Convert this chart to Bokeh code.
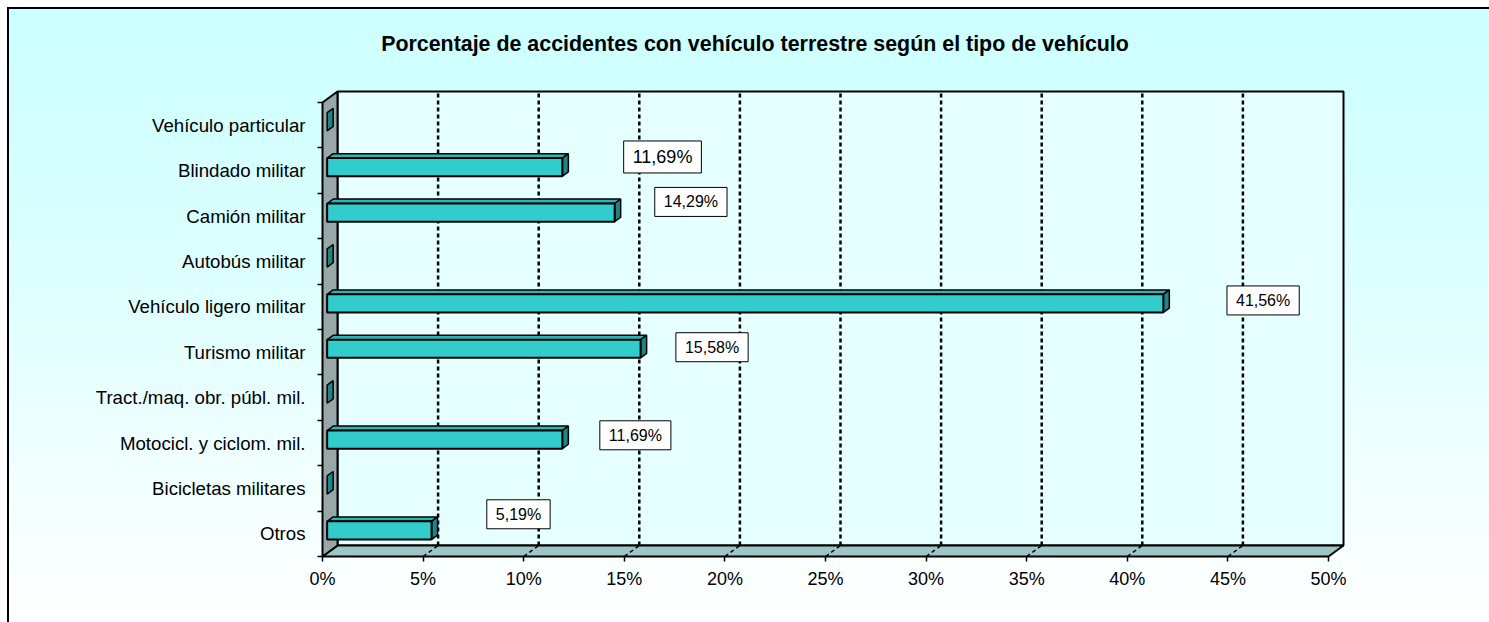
from bokeh.plotting import figure
from bokeh.models import FixedTicker, Label, Range1d
from bokeh.embed import file_html
from bokeh.resources import INLINE

# ---------------- data ----------------
categories = [
    "Vehículo particular",
    "Blindado militar",
    "Camión militar",
    "Autobús militar",
    "Vehículo ligero militar",
    "Turismo militar",
    "Tract./maq. obr. públ. mil.",
    "Motocicl. y ciclom. mil.",
    "Bicicletas militares",
    "Otros",
]
percentages = [0.0, 11.69, 14.29, 0.0, 41.56, 15.58, 0.0, 11.69, 0.0, 5.19]
x_ticks = [0, 5, 10, 15, 20, 25, 30, 35, 40, 45, 50]
x_tick_labels = ["0%", "5%", "10%", "15%", "20%", "25%", "30%", "35%", "40%", "45%", "50%"]
title_text = "Porcentaje de accidentes con vehículo terrestre según el tipo de vehículo"

# ---------------- layout / styling (not data) ----------------
W, H = 1489, 622
PX_X = 20.12   # pixels per percent
PX_Y = 45.4    # pixels per category band
FRAME_L, FRAME_R, FRAME_T, FRAME_B = 320, 1348, 20, 558   # canvas pixels
ORIGIN_X, ORIGIN_Y = 322, 556                             # canvas pixels of (0, 0)
XMAX = 50
N = len(categories)
DX = 15 / PX_X          # 3D depth offset in data units
DY = 11 / PX_Y
Z1, Z2 = 0.31, 0.71     # bar depth span (fraction of wall depth)
BAR_H = 0.2             # half height of bar in category units

# label offsets (dx in %, dy in category units) for each category, None = no label
label_offsets = [None, (5.21, 0.30), (4.02, 0.31), None, (5.19, 0.14),
                 (3.78, 0.11), None, (3.86, 0.17), None, (4.55, 0.43)]
label_sizes = [16, 18, 16, 16, 16, 16, 16, 16, 16, 16]

FONT = "Liberation Sans"

x_start = (FRAME_L - ORIGIN_X) / PX_X
x_end = x_start + (FRAME_R - FRAME_L) / PX_X
y_start = (ORIGIN_Y - FRAME_B) / PX_Y
y_end = y_start + (FRAME_B - FRAME_T) / PX_Y

bg = ("linear-gradient(#000000, #000000) 7px 7px / 2px calc(100% - 7px) no-repeat, "
      "linear-gradient(#000000, #000000) 7px 7px / calc(100% - 7px) 2px no-repeat, "
      "linear-gradient(to bottom, #ccffff 0%, #dcffff 40%, #ffffff 100%) 9px 9px / "
      "calc(100% - 9px) calc(100% - 9px) no-repeat, #ffffff")

p = figure(
    width=W, height=H,
    output_backend="svg", toolbar_location=None,
    x_range=Range1d(x_start, x_end), y_range=Range1d(y_start, y_end),
    min_border_left=FRAME_L, min_border_right=W - FRAME_R,
    min_border_top=FRAME_T, min_border_bottom=H - FRAME_B,
    styles={"background": bg},
)
p.border_fill_color = None
p.background_fill_color = None
p.outline_line_color = None
p.xgrid.grid_line_color = None
p.ygrid.grid_line_color = None

# ---------------- walls ----------------
# back wall
p.patch([DX, XMAX + DX, XMAX + DX, DX], [DY, DY, N + DY, N + DY],
        fill_color="#E6FFFF", line_color="black", line_width=2)
# floor
p.patch([0, XMAX, XMAX + DX, DX], [0, 0, DY, DY],
        fill_color="#9EC6C6", line_color="black", line_width=2)
# left wall
p.patch([0, DX, DX, 0], [0, DY, N + DY, N],
        fill_color="#98A8A8", line_color="black", line_width=2)

# gridlines (back wall + floor)
gx = [t for t in x_ticks if 0 < t < XMAX]
p.segment(x0=[g + DX for g in gx], y0=[DY] * len(gx), x1=[g + DX for g in gx], y1=[N + DY] * len(gx),
          line_color="black", line_width=2.5, line_dash="4 3")
p.segment(x0=gx, y0=[0] * len(gx), x1=[g + DX for g in gx], y1=[DY] * len(gx),
          line_color="black", line_width=1.5, line_dash="4 3")

# ---------------- bars ----------------
front_xs, front_ys, top_xs, top_ys, side_xs, side_ys = [], [], [], [], [], []
for i, v in enumerate(percentages):
    c = (N - 0.5) - i
    ax1, ay1 = Z1 * DX, Z1 * DY
    ax2, ay2 = Z2 * DX, Z2 * DY
    side_xs.append([v + ax1, v + ax2, v + ax2, v + ax1])
    side_ys.append([c - BAR_H + ay1, c - BAR_H + ay2, c + BAR_H + ay2, c + BAR_H + ay1])
    if v > 0:
        front_xs.append([ax1, v + ax1, v + ax1, ax1])
        front_ys.append([c - BAR_H + ay1, c - BAR_H + ay1, c + BAR_H + ay1, c + BAR_H + ay1])
        top_xs.append([ax1, v + ax1, v + ax2, ax2])
        top_ys.append([c + BAR_H + ay1, c + BAR_H + ay1, c + BAR_H + ay2, c + BAR_H + ay2])

p.patches(top_xs, top_ys, fill_color="#2DB5B5", line_color="black", line_width=1.5)
p.patches(side_xs, side_ys, fill_color="#1F8585", line_color="black", line_width=1.5)
p.patches(front_xs, front_ys, fill_color="#33CCCC", line_color="black", line_width=2)

# ---------------- value labels ----------------
for i, v in enumerate(percentages):
    off = label_offsets[i]
    if off is None or v <= 0:
        continue
    c = (N - 0.5) - i
    txt = f"{v:.2f}".replace(".", ",") + "%"
    p.add_layout(Label(
        x=v + off[0], y=c + off[1], text=txt,
        text_align="center", text_baseline="middle",
        text_font=FONT, text_font_size=f"{label_sizes[i]}px", text_color="black",
        background_fill_color="white", border_line_color="black", border_line_width=1,
        padding=(9, 6),
    ))

# ---------------- title ----------------
p.add_layout(Label(
    x=(754.5 - ORIGIN_X) / PX_X, y=(ORIGIN_Y - 43) / PX_Y, text=title_text,
    text_align="center", text_baseline="middle",
    text_font=FONT, text_font_size="21.4px", text_font_style="bold", text_color="black",
))

# ---------------- axes ----------------
xa = p.xaxis[0]
xa.ticker = FixedTicker(ticks=x_ticks, minor_ticks=[])
xa.major_label_overrides = {t: lab for t, lab in zip(x_ticks, x_tick_labels)}
xa.axis_line_color = None
xa.major_tick_in = 2
xa.major_tick_out = 3
xa.major_tick_line_color = "black"
xa.major_tick_line_width = 1.5
xa.minor_tick_line_color = None
xa.major_label_standoff = 7
xa.major_label_text_font = FONT
xa.major_label_text_font_size = "18px"
xa.major_label_text_color = "black"

ya = p.yaxis[0]
centers = [(N - 0.5) - i for i in range(N)]
ya.ticker = FixedTicker(ticks=centers, minor_ticks=list(range(N + 1)))
ya.major_label_overrides = {c: name for c, name in zip(centers, categories)}
ya.axis_line_color = None
ya.major_tick_in = 0
ya.major_tick_out = 0
ya.minor_tick_in = 2
ya.minor_tick_out = 3
ya.minor_tick_line_color = "black"
ya.minor_tick_line_width = 1.5
ya.major_label_standoff = 12
ya.major_label_text_font = FONT
ya.major_label_text_font_size = "18.67px"
ya.major_label_text_color = "black"

open("out.html", "w").write(file_html(p, INLINE))
